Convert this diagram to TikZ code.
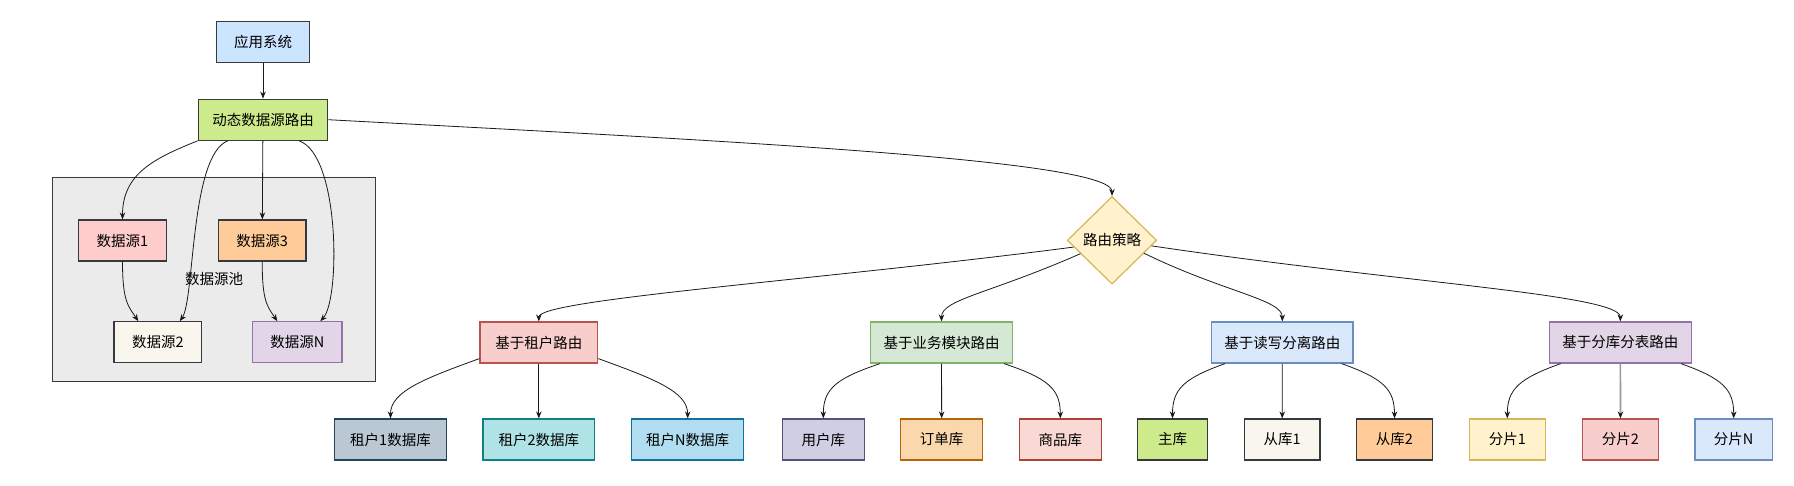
\documentclass[tikz,border=0pt]{standalone}
\usepackage{fontspec}
\setmainfont{Noto Sans CJK SC}
\usetikzlibrary{shapes.geometric,arrows.meta}
\definecolor{dark}{HTML}{36393D}
\definecolor{linkc}{HTML}{1A1A1A}
\definecolor{appfill}{HTML}{CCE5FF}
\definecolor{limefill}{HTML}{CDEB8B}
\definecolor{rosefill}{HTML}{FFCCCC}
\definecolor{peachfill}{HTML}{FFCC99}
\definecolor{creamfill}{HTML}{F9F7ED}
\definecolor{poolfill}{HTML}{EBEBEB}
\definecolor{lilacfill}{HTML}{E1D5E7}
\definecolor{lilacline}{HTML}{9673A6}
\definecolor{yelfill}{HTML}{FFF2CC}
\definecolor{yelline}{HTML}{D6B656}
\definecolor{redfill}{HTML}{F8CECC}
\definecolor{redline}{HTML}{B85450}
\definecolor{greenfill}{HTML}{D5E8D4}
\definecolor{greenline}{HTML}{82B366}
\definecolor{bluefill}{HTML}{DAE8FC}
\definecolor{blueline}{HTML}{6C8EBF}
\definecolor{slatefill}{HTML}{BAC8D3}
\definecolor{slateline}{HTML}{23445D}
\definecolor{tealfill}{HTML}{B0E3E6}
\definecolor{tealline}{HTML}{0E8088}
\definecolor{skyfill}{HTML}{B1DDF0}
\definecolor{skyline}{HTML}{10739E}
\definecolor{violetfill}{HTML}{D0CEE2}
\definecolor{violetline}{HTML}{56517E}
\definecolor{orangefill}{HTML}{FAD7AC}
\definecolor{orangeline}{HTML}{B46504}
\definecolor{salmonfill}{HTML}{FAD9D5}
\definecolor{salmonline}{HTML}{AE4132}
\definecolor{grayline}{HTML}{999999}

\begin{document}
\begin{tikzpicture}[x=1pt, y=-1pt,
    every node/.style = {font=\fontsize{14.5}{17}\selectfont, text=black},
    blk/.style 2 args = {rectangle, draw=#1, fill=#2, line width=1.2pt,
                         minimum height=41pt, inner sep=0pt},
    link/.style = {draw=linkc, line width=0.8pt, -{Stealth[length=7pt,width=5.5pt,color=linkc]}}]
  \fill[white] (0,0) rectangle (1794,485);
  \useasboundingbox (0,0) rectangle (1794,485);

  \draw[draw=dark, fill=poolfill, line width=1.2pt] (52.7,177.7) rectangle (375.7,381.7);
  \node (poollabel) at (214,279) {数据源池};

  \node[blk={dark}{appfill}, minimum width=92.6pt] (app) at (263,42) {应用系统};
  \node[blk={dark}{limefill}, minimum width=129.4pt] (dyn) at (263,119.7) {动态数据源路由};
  \node[blk={dark}{rosefill}, minimum width=87.6pt] (ds1) at (122.5,240.5) {数据源1};
  \node[blk={dark}{peachfill}, minimum width=87.7pt] (ds3) at (262.2,240.5) {数据源3};
  \node[blk={dark}{creamfill}, minimum width=87.7pt] (ds2) at (157.8,342.3) {数据源2};
  \node[blk={lilacline}{lilacfill}, minimum width=89.3pt] (dsN) at (297.3,342.3) {数据源N};

  \node[diamond, draw=yelline, fill=yelfill, line width=1.2pt, inner sep=0pt,
        minimum width=89.4pt, minimum height=87.6pt] (strat) at (1112,240.3) {路由策略};

  \node[blk={redline}{redfill}, minimum width=117.7pt] (tenant) at (538.8,342.5) {基于租户路由};
  \node[blk={greenline}{greenfill}, minimum width=141.6pt] (biz) at (941.5,342.5) {基于业务模块路由};
  \node[blk={blueline}{bluefill}, minimum width=141.3pt] (rw) at (1282.3,342.5) {基于读写分离路由};
  \node[blk={lilacline}{lilacfill}, minimum width=142pt] (shard) at (1620.3,342.5) {基于分库分表路由};

  \node[blk={slateline}{slatefill}, minimum width=111.6pt] (t1) at (390.5,439.5) {租户1数据库};
  \node[blk={tealline}{tealfill}, minimum width=111.7pt] (t2) at (538.8,439.5) {租户2数据库};
  \node[blk={skyline}{skyfill}, minimum width=112pt] (tN) at (687.7,439.5) {租户N数据库};
  \node[blk={violetline}{violetfill}, minimum width=82pt] (user) at (823.3,439.5) {用户库};
  \node[blk={orangeline}{orangefill}, minimum width=82pt] (order) at (941.7,439.5) {订单库};
  \node[blk={salmonline}{salmonfill}, minimum width=82pt] (prod) at (1060.3,439.5) {商品库};
  \node[blk={dark}{limefill}, minimum width=69.7pt] (master) at (1172.5,439.5) {主库};
  \node[blk={dark}{creamfill}, minimum width=75.7pt] (s1) at (1282.2,439.5) {从库1};
  \node[blk={dark}{peachfill}, minimum width=75.7pt] (s2) at (1394.5,439.5) {从库2};
  \node[blk={yelline}{yelfill}, minimum width=76pt] (p1) at (1507.3,439.5) {分片1};
  \node[blk={redline}{redfill}, minimum width=75.6pt] (p2) at (1620.5,439.5) {分片2};
  \node[blk={blueline}{bluefill}, minimum width=77.3pt] (pN) at (1733.7,439.5) {分片N};

  \draw[link] (app) -- (dyn);
  \draw[link] (dyn.south west) .. controls +(-45,18) and +(0,-45) .. (ds1.north);
  \draw[link] ([xshift=-35pt]dyn.south) .. controls +(-38,14) and +(15,-22) .. ([xshift=22pt]ds2.north);
  \draw[link] (dyn) -- (ds3);
  \draw[link] ([xshift=36pt]dyn.south) .. controls +(41,14) and +(20,-22) .. ([xshift=23pt]dsN.north);
  \draw[link] (ds1.south) .. controls +(0,40) and +(-10,-15) .. ([xshift=-19.5pt]ds2.north);
  \draw[link] (ds3.south) .. controls +(0,40) and +(-10,-15) .. ([xshift=-20pt]dsN.north);

  \draw[link] (dyn.east) .. controls +(372,20) and +(0,-37) .. (strat.north);
  \draw[link] (strat.190) .. controls +(-254,33) and +(0,-22) .. (tenant.north);
  \draw[link] (strat.203) .. controls +(-91,40) and +(0,-22) .. (biz.north);
  \draw[link] (strat.338) .. controls +(80,39) and +(0,-22) .. (rw.north);
  \draw[link] (strat.352) .. controls +(249,37) and +(0,-27) .. (shard.north);

  \draw[link] ([yshift=5pt]tenant.south west) .. controls +(-55,20) and +(0,-27) .. (t1.north);
  \draw[link] (tenant) -- (t2);
  \draw[link] ([yshift=5pt]tenant.south east) .. controls +(55,20) and +(0,-27) .. (tN.north);
  \draw[link] ([xshift=10pt]biz.south west) .. controls +(-45,15) and +(0,-29) .. (user.north);
  \draw[link] (biz) -- (order);
  \draw[link] ([xshift=-9pt]biz.south east) .. controls +(45,15) and +(0,-29) .. (prod.north);
  \draw[link] ([xshift=14pt]rw.south west) .. controls +(-42,15) and +(0,-29) .. (master.north);
  \draw[link] (rw) -- (s1);
  \draw[link] ([xshift=-12pt]rw.south east) .. controls +(42,15) and +(0,-29) .. (s2.north);
  \draw[link] ([xshift=12pt]shard.south west) .. controls +(-42,15) and +(0,-29) .. (p1.north);
  \draw[link, draw=grayline, line width=1.7pt] (shard) -- (p2);
  \draw[link] ([xshift=-11pt]shard.south east) .. controls +(42,15) and +(0,-29) .. (pN.north);
\end{tikzpicture}
\end{document}
